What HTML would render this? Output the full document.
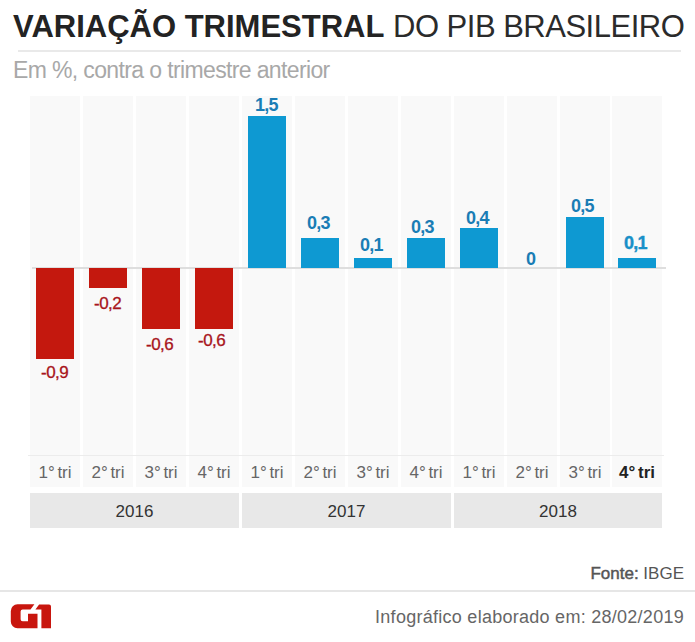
<!DOCTYPE html>
<html><head><meta charset="utf-8">
<style>
*{margin:0;padding:0;box-sizing:border-box}
html,body{width:695px;height:642px;background:#fff;overflow:hidden;font-family:"Liberation Sans",sans-serif}
.a{position:absolute;white-space:nowrap}
#t1{left:13px;top:9px;font-size:31px;font-weight:bold;color:#232323}
#t2{left:393px;top:9px;font-size:31px;letter-spacing:-0.5px;color:#2b2b2b}
#hl{left:18px;top:50px;width:663px;height:2px;background:#e9e9e9}
#sub{left:13px;top:57px;font-size:23px;letter-spacing:-0.63px;color:#a8a8a8}
.col{position:absolute;top:96px;height:359px;width:50px;background:#f9f9f9}
.lab{position:absolute;top:458px;height:30px;width:50px;font-size:17px;word-spacing:-2px;color:#666;text-align:center;line-height:30px}
.lbg{position:absolute;top:456px;height:31px;width:50px;background:#f9f9f9}
.cur{font-weight:bold;color:#222}
#l455{left:28px;top:455px;width:636px;height:1px;background:#ececec}
#base{left:32px;top:267px;width:634px;height:2px;background:#dedede}
.bar{position:absolute;width:38px}
.r{background:#c4180e}
.b{background:#0e99d2}
.v{position:absolute;line-height:18px}
.vr{color:#a8141b;font-size:17px;letter-spacing:-0.5px;-webkit-text-stroke:0.3px #a8141b}
.vb{color:#1a7db5;font-weight:bold;font-size:18px;letter-spacing:-0.8px}
.hl{color:#1890c8;-webkit-text-stroke:0.4px #1890c8}
.yr{position:absolute;top:493px;height:35px;width:209px;background:#e8e8e8}
.yl{position:absolute;top:494px;height:35px;width:209px;font-size:17px;color:#333;text-align:center;line-height:35px}
#fl{left:0;top:590px;width:695px;height:2px;background:#e6e6e6}
#fonte{right:11px;top:564px;font-size:17px;color:#555}
#info{right:11px;top:607px;font-size:18px;letter-spacing:0.27px;color:#666}
</style></head><body>
<div class="a" id="t1">VARIAÇÃO TRIMESTRAL</div>
<div class="a" id="t2">DO PIB BRASILEIRO</div>
<div class="a" id="hl"></div>
<div class="a" id="sub">Em %, contra o trimestre anterior</div>
<div class="col" style="left:30px"></div>
<div class="col" style="left:83px"></div>
<div class="col" style="left:136px"></div>
<div class="col" style="left:189px"></div>
<div class="col" style="left:242px"></div>
<div class="col" style="left:295px"></div>
<div class="col" style="left:348px"></div>
<div class="col" style="left:401px"></div>
<div class="col" style="left:454px"></div>
<div class="col" style="left:507px"></div>
<div class="col" style="left:560px"></div>
<div class="col" style="left:612px"></div>
<div class="lbg" style="left:30px"></div>
<div class="lbg" style="left:83px"></div>
<div class="lbg" style="left:136px"></div>
<div class="lbg" style="left:189px"></div>
<div class="lbg" style="left:242px"></div>
<div class="lbg" style="left:295px"></div>
<div class="lbg" style="left:348px"></div>
<div class="lbg" style="left:401px"></div>
<div class="lbg" style="left:454px"></div>
<div class="lbg" style="left:507px"></div>
<div class="lbg" style="left:560px"></div>
<div class="lbg" style="left:612px"></div>
<div class="a" id="l455"></div>
<div class="a" id="base"></div>
<div class="bar r" style="left:36px;top:268px;height:91px"></div>
<div class="bar r" style="left:89px;top:268px;height:20px"></div>
<div class="bar r" style="left:142px;top:268px;height:61px"></div>
<div class="bar r" style="left:195px;top:268px;height:61px"></div>
<div class="bar b" style="left:248px;top:116px;height:152px"></div>
<div class="bar b" style="left:301px;top:238px;height:30px"></div>
<div class="bar b" style="left:354px;top:258px;height:10px"></div>
<div class="bar b" style="left:407px;top:238px;height:30px"></div>
<div class="bar b" style="left:460px;top:228px;height:40px"></div>
<div class="bar b" style="left:566px;top:217px;height:51px"></div>
<div class="bar b" style="left:618px;top:258px;height:10px"></div>
<div class="v vr" style="left:41px;top:364px">-0,9</div>
<div class="v vr" style="left:94px;top:295px">-0,2</div>
<div class="v vr" style="left:146px;top:336px">-0,6</div>
<div class="v vr" style="left:198px;top:332px">-0,6</div>
<div class="v vb" style="left:255px;top:96px">1,5</div>
<div class="v vb" style="left:307px;top:214px">0,3</div>
<div class="v vb" style="left:360px;top:236px">0,1</div>
<div class="v vb" style="left:411px;top:218px">0,3</div>
<div class="v vb" style="left:466px;top:209px">0,4</div>
<div class="v vb" style="left:526px;top:250px">0</div>
<div class="v vb" style="left:571px;top:197px">0,5</div>
<div class="v vb hl" style="left:624px;top:234px">0,1</div>
<div class="lab" style="left:30px">1° tri</div>
<div class="lab" style="left:83px">2° tri</div>
<div class="lab" style="left:136px">3° tri</div>
<div class="lab" style="left:189px">4° tri</div>
<div class="lab" style="left:242px">1° tri</div>
<div class="lab" style="left:295px">2° tri</div>
<div class="lab" style="left:348px">3° tri</div>
<div class="lab" style="left:401px">4° tri</div>
<div class="lab" style="left:454px">1° tri</div>
<div class="lab" style="left:507px">2° tri</div>
<div class="lab" style="left:560px">3° tri</div>
<div class="lab cur" style="left:612px">4° tri</div>
<div class="yr" style="left:30px"></div>
<div class="yr" style="left:242px"></div>
<div class="yr" style="left:454px;width:208px"></div>
<div class="yl" style="left:30px">2016</div>
<div class="yl" style="left:242px">2017</div>
<div class="yl" style="left:454px;width:208px">2018</div>
<div class="a" id="fonte"><span style="-webkit-text-stroke:0.45px #555">Fonte:</span> IBGE</div>
<div class="a" id="fl"></div>
<svg class="a" style="left:0;top:600px" width="60" height="35" viewBox="0 0 60 35"><path fill="#c8160e" d="M10.8 11A6.7 6.7 0 0 1 17.5 4.3L34.4 4.3L30.5 9.6L22.6 9.6A2 2 0 0 0 20.6 11.6L20.6 19.2A2 2 0 0 0 22.6 21.2L28 21.2L28 13.8L37.5 13.8L37.5 28.2L17.5 28.2A6.7 6.7 0 0 1 10.8 21.5Z"/><path fill="#c8160e" d="M39.1 4.4L49 4.4A2 2 0 0 1 51 6.4L51 28.2L41.4 28.2L41.4 9.6L35.4 9.6Z"/></svg>
<div class="a" id="info">Infográfico elaborado em: 28/02/2019</div>
</body></html>
